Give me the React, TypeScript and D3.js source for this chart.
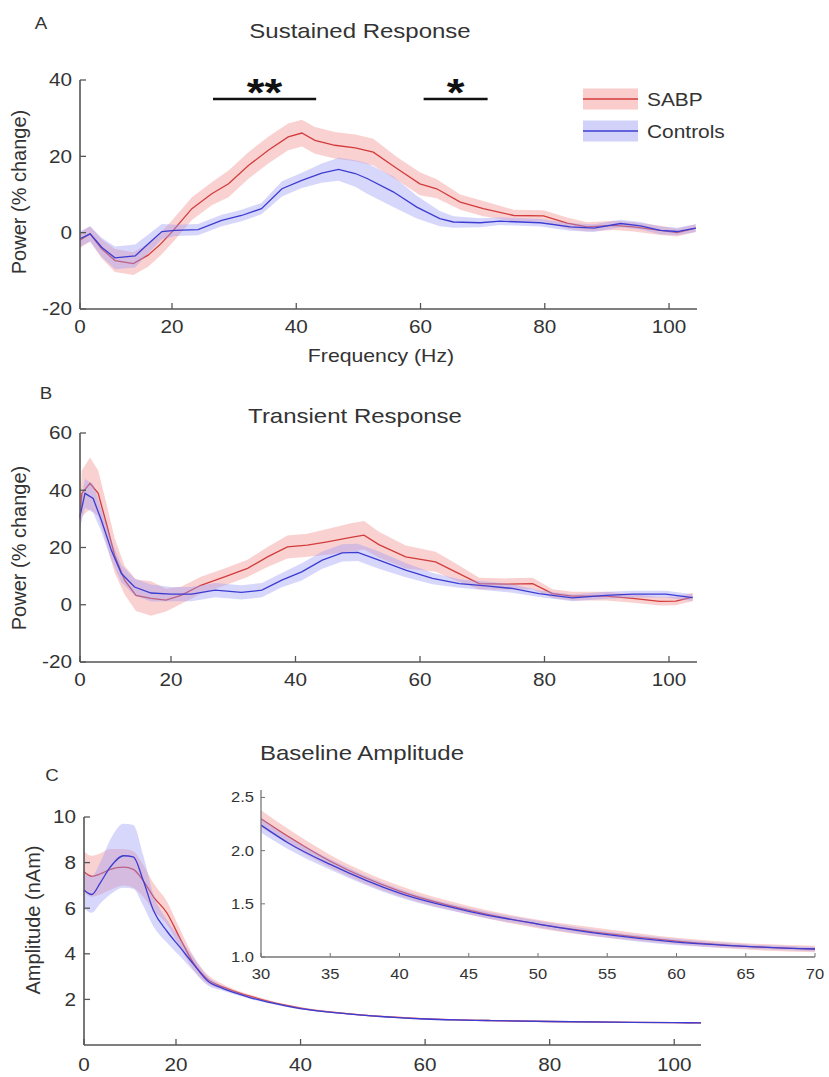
import React from "react";
import * as d3 from "d3";

// ---------- data ----------
const xTicksMain = [0, 20, 40, 60, 80, 100];
const yTicksA = [-20, 0, 20, 40];
const yTicksB = [-20, 0, 20, 40, 60];
const yTicksC = [2, 4, 6, 8, 10];
const xTicksInset = [30, 35, 40, 45, 50, 55, 60, 65, 70];
const yTicksInset = [1.0, 1.5, 2.0, 2.5];
const legendLabels = ["SABP", "Controls"];

// Panel A – Sustained response
const freqA_sabp = [0, 2.2, 4.7, 7.6, 11.6, 14.8, 17.5, 20, 23.2, 26.4, 29.1, 32.3, 35.5, 38.7, 40.9, 43, 46.2, 49.5, 52.4, 56.2, 59.9, 62.6, 66.4, 70.1, 75, 79.8, 83.6, 86.8, 91.1, 94.3, 98.6, 101.3, 104.3];
const powA_sabp = [-2, -0.3, -4.2, -7.3, -8.1, -5.9, -3, 0.2, 6.3, 10.2, 12.8, 17.6, 21.6, 25.1, 26.1, 24.2, 22.9, 22.2, 21.1, 16.8, 12.8, 11.5, 8.0, 6.3, 4.5, 4.4, 2.5, 1.5, 1.9, 1.5, 0.6, 0, 1.2];
const semA_sabp = [2, 2, 2.5, 3, 3, 3, 3, 3, 3, 3, 3.5, 3.5, 3.5, 3.5, 3.5, 3.5, 3.5, 3.5, 3.5, 3, 3, 2.5, 2, 2, 1.5, 1.5, 1.5, 1.2, 1.2, 1.2, 1.2, 1, 1];
const freqA_ctrl = [0, 2.2, 4.7, 7.6, 12, 14.5, 17.8, 20.5, 24.2, 28, 31.2, 34.4, 37.7, 40.9, 44.1, 46.8, 49.5, 51.4, 55.6, 59.4, 63.1, 65.3, 69.6, 72.8, 79.3, 84.1, 87.9, 92.2, 95.4, 98.6, 101.3, 104.3];
const powA_ctrl = [-1.6, -0.3, -3.8, -6.6, -6.1, -3.3, 0.3, 0.6, 0.8, 3.2, 4.5, 6.3, 11.5, 13.7, 15.6, 16.6, 15.5, 14.2, 10.7, 6.7, 3.7, 2.8, 2.6, 3.0, 2.6, 1.5, 1.2, 2.4, 1.8, 0.6, 0.3, 1.2];
const semA_ctrl = [2, 2, 2.5, 3, 3, 2.5, 2, 1.5, 1.5, 1.5, 1.5, 1.5, 2, 2, 2.5, 3, 3.5, 4, 4, 3, 2, 1.5, 1.2, 1, 1, 1, 1, 1, 1, 1, 1, 1];
const sigRanges = [[26.6, 43.2], [60.5, 70.8]];
const sigLabels = ["**", "*"];

// Panel B – Transient response
const freqB_sabp = [0, 0.4, 2.2, 4, 5.8, 7.6, 9.8, 12.3, 15.6, 18.9, 21.6, 24.8, 28.6, 32.3, 35.5, 38.7, 41.9, 45.1, 48.9, 51, 53.4, 57.7, 62.5, 65.7, 69.5, 73.8, 78.1, 81.3, 84.5, 89.9, 94.2, 98.5, 101.1, 103.8];
const powB_sabp = [30, 38.9, 42.4, 38.9, 28.4, 17.3, 8.6, 3.3, 2.2, 1.6, 3.3, 6.8, 9.7, 12.7, 16.7, 20.2, 20.8, 22, 23.5, 24.3, 21, 16.7, 15, 11.5, 7.4, 7.2, 7.4, 3.9, 3.0, 3.0, 2.2, 1.2, 1.3, 2.7];
const semB_sabp = [5, 8, 9, 8, 7, 6, 5, 5.5, 6, 4, 3, 3, 3, 3, 3.5, 4, 4, 4.5, 5, 5, 4.5, 4, 3.5, 3, 2, 2, 2, 1.5, 1.5, 1.5, 1.5, 1.5, 1.5, 1.5];
const freqB_ctrl = [0, 1.1, 2.9, 4.7, 6.9, 9.1, 12, 15.6, 20, 23.3, 27.1, 31.3, 34.6, 37.8, 41, 44.3, 47.5, 50, 53.4, 57.7, 62, 66.3, 70.6, 74.8, 79.1, 84.5, 89.9, 94.2, 99.5, 103.8];
const powB_ctrl = [31, 38.9, 37.1, 29.5, 19, 10.9, 6.2, 4.1, 3.7, 3.7, 5.1, 4.3, 5.1, 8.6, 11.5, 15.6, 18.1, 18.3, 15.6, 12.1, 9.2, 7.4, 6.6, 5.7, 3.9, 2.4, 3.3, 3.7, 3.7, 2.5];
const semB_ctrl = [4, 5, 5, 4, 3.5, 3, 3, 3, 2.5, 2.5, 2.5, 2.5, 2.5, 2.5, 3, 3, 3, 3, 3, 2.5, 2, 1.5, 1.5, 1.5, 1.2, 1.2, 1.2, 1.2, 1.2, 1.2];

// Panel C – Baseline amplitude
const freqC = [0, 1.7, 3.5, 5.7, 8.6, 10.7, 12.9, 15.1, 18, 20.6, 22.8, 25, 27.5, 30, 32, 35, 40, 45, 50, 55, 60, 65, 70, 80, 90, 100, 104.3];
const ampC_sabp = [7.6, 7.4, 7.5, 7.7, 7.8, 7.7, 7.2, 6.5, 5.8, 4.7, 3.6, 2.9, 2.55, 2.3, 2.13, 1.9, 1.62, 1.44, 1.31, 1.22, 1.15, 1.1, 1.075, 1.03, 1.0, 0.98, 0.97];
const semC_sabp = [0.9, 0.9, 0.9, 0.9, 0.8, 0.8, 0.7, 0.6, 0.5, 0.4, 0.3, 0.2, 0.12, 0.08, 0.07, 0.06, 0.05, 0.04, 0.04, 0.04, 0.03, 0.03, 0.03, 0.02, 0.02, 0.02, 0.02];
const ampC_ctrl = [6.8, 6.6, 7.1, 7.8, 8.3, 8.25, 7.2, 5.9, 5.0, 4.3, 3.55, 2.83, 2.48, 2.24, 2.07, 1.87, 1.6, 1.43, 1.31, 1.21, 1.14, 1.1, 1.075, 1.03, 1.0, 0.98, 0.97];
const semC_ctrl = [0.8, 0.8, 0.9, 1.2, 1.4, 1.4, 1.1, 0.7, 0.5, 0.4, 0.3, 0.2, 0.1, 0.07, 0.06, 0.05, 0.04, 0.03, 0.03, 0.03, 0.03, 0.02, 0.02, 0.02, 0.02, 0.02, 0.02];

// ---------- styling ----------
const FONT = "'Liberation Sans', Arial, sans-serif";
const RED = "#d23c3c";
const BLUE = "#3c3cd2";
const RED_BAND = "#f59a9a";
const BLUE_BAND = "#9a9af5";
const AXIS = "#555";
const TXT = "#333";

type Pt = { f: number; v: number; s: number };
const zip = (f: number[], v: number[], s: number[]): Pt[] => f.map((ff, i) => ({ f: ff, v: v[i], s: s[i] }));

function T({ x, y, s = 18, sx = 1.15, anchor = "middle", rot = 0, w = "normal", fill = TXT, children }: any) {
  return (
    <text
      transform={`translate(${x},${y}) rotate(${rot}) scale(${sx},1)`}
      fontSize={s}
      textAnchor={anchor}
      fontWeight={w}
      fill={fill}
      fontFamily={FONT}
    >
      {children}
    </text>
  );
}

function Series({ data, x, y, color, band, curve, bandOpacity = 0.45 }: any) {
  const area = d3
    .area<Pt>()
    .x((d) => x(d.f))
    .y0((d) => y(d.v - d.s))
    .y1((d) => y(d.v + d.s))
    .curve(curve);
  const line = d3
    .line<Pt>()
    .x((d) => x(d.f))
    .y((d) => y(d.v))
    .curve(curve);
  return (
    <g>
      <path d={area(data) || ""} fill={band} opacity={bandOpacity} stroke="none" />
      <path d={line(data) || ""} fill="none" stroke={color} strokeWidth={1.3} />
    </g>
  );
}

function Axes({ x, y, xTicks, yTicks, xLabels = true, tickFmt = (v: number) => String(v), xFmt = (v: number) => String(v), stroke = AXIS, fs = 18, sx = 1.15, xLabelDy = 24, yLabelDx = 8, tl = 6, sw = 1.6 }: any) {
  const [x0, x1] = [x.range()[0], x.range()[x.range().length - 1]];
  const [y0, y1] = y.range();
  return (
    <g>
      <line x1={x0} x2={x1} y1={y0} y2={y0} stroke={stroke} strokeWidth={sw} />
      <line x1={x0} x2={x0} y1={y0} y2={y1} stroke={stroke} strokeWidth={sw} />
      {xTicks.map((t: number) => (
        <g key={"x" + t}>
          <line x1={x(t)} x2={x(t)} y1={y0} y2={y0 - tl} stroke={stroke} strokeWidth={sw * 0.8} />
          {xLabels && (
            <T x={x(t)} y={y0 + xLabelDy} s={fs} sx={sx}>
              {xFmt(t)}
            </T>
          )}
        </g>
      ))}
      {yTicks.map((t: number) => (
        <g key={"y" + t}>
          <line x1={x0} x2={x0 + tl} y1={y(t)} y2={y(t)} stroke={stroke} strokeWidth={sw * 0.8} />
          <T x={x0 - yLabelDx} y={y(t) + fs * 0.36} s={fs} sx={sx} anchor="end">
            {tickFmt(t)}
          </T>
        </g>
      ))}
    </g>
  );
}

export default function App() {
  // scales
  const xA = d3.scaleLinear().domain([0, 20, 104.5]).range([80, 172, 697]);
  const yA = d3.scaleLinear().domain([-20, 40]).range([309, 80]);
  const xB = d3.scaleLinear().domain([0, 20, 104.5]).range([80, 171, 697]);
  const yB = d3.scaleLinear().domain([-20, 60]).range([662, 433]);
  const xC = d3.scaleLinear().domain([0, 20, 104.3]).range([84, 176, 701]);
  const yC = d3.scaleLinear().domain([0, 10]).range([1045, 817]);
  const xI = d3.scaleLinear().domain([30, 70]).range([261, 815]);
  const yI = d3.scaleLinear().domain([1.0, 2.57]).range([957, 790]);

  const aS = zip(freqA_sabp, powA_sabp, semA_sabp);
  const aC = zip(freqA_ctrl, powA_ctrl, semA_ctrl);
  const bS = zip(freqB_sabp, powB_sabp, semB_sabp);
  const bC = zip(freqB_ctrl, powB_ctrl, semB_ctrl);
  const cS = zip(freqC, ampC_sabp, semC_sabp);
  const cC = zip(freqC, ampC_ctrl, semC_ctrl);
  const iS = cS.filter((d) => d.f >= 30 && d.f <= 70);
  const iC = cC.filter((d) => d.f >= 30 && d.f <= 70);

  const lin = d3.curveLinear;
  const smooth = d3.curveMonotoneX;

  return (
    <svg width={829} height={1077} style={{ position: "absolute", left: 0, top: 0, background: "#fff" }}>
      <rect width={829} height={1077} fill="#fff" />

      {/* ---------- Panel A ---------- */}
      <T x={41} y={29} s={17} sx={1.1}>A</T>
      <T x={360} y={38} s={20} sx={1.2}>Sustained Response</T>
      <Series data={aS} x={xA} y={yA} color={RED} band={RED_BAND} curve={lin} />
      <Series data={aC} x={xA} y={yA} color={BLUE} band={BLUE_BAND} curve={lin} bandOpacity={0.4} />
      <Axes x={xA} y={yA} xTicks={xTicksMain} yTicks={yTicksA} />
      <T x={26} y={192} s={20} sx={1} rot={-90}>Power (% change)</T>
      <T x={381} y={362} s={18} sx={1.18}>Frequency (Hz)</T>
      {sigRanges.map((r, i) => (
        <g key={"sig" + i}>
          <line x1={xA(r[0])} x2={xA(r[1])} y1={99} y2={99} stroke="#111" strokeWidth={2.5} />
          <T x={(xA(r[0]) + xA(r[1])) / 2} y={106} s={38} sx={1.2} w="bold" fill="#111">
            {sigLabels[i]}
          </T>
        </g>
      ))}
      {/* legend */}
      {legendLabels.map((lab, i) => {
        const yc = 99 + i * 32;
        return (
          <g key={lab}>
            <rect x={583} y={yc - 10.5} width={55} height={21} fill={i === 0 ? RED_BAND : BLUE_BAND} opacity={i === 0 ? 0.5 : 0.45} />
            <line x1={583} x2={638} y1={yc} y2={yc} stroke={i === 0 ? RED : BLUE} strokeWidth={1.3} />
            <T x={647} y={yc + 7} s={19} sx={1.1} anchor="start">{lab}</T>
          </g>
        );
      })}

      {/* ---------- Panel B ---------- */}
      <T x={46} y={399} s={17} sx={1.1}>B</T>
      <T x={355} y={423} s={20} sx={1.2}>Transient Response</T>
      <Series data={bS} x={xB} y={yB} color={RED} band={RED_BAND} curve={lin} />
      <Series data={bC} x={xB} y={yB} color={BLUE} band={BLUE_BAND} curve={lin} bandOpacity={0.4} />
      <Axes x={xB} y={yB} xTicks={xTicksMain} yTicks={yTicksB} />
      <T x={26} y={548} s={20} sx={1} rot={-90}>Power (% change)</T>

      {/* ---------- Panel C ---------- */}
      <T x={52} y={781} s={17} sx={1.1}>C</T>
      <T x={362} y={760} s={20} sx={1.2}>Baseline Amplitude</T>
      <Series data={cS} x={xC} y={yC} color={RED} band={RED_BAND} curve={smooth} />
      <Series data={cC} x={xC} y={yC} color={BLUE} band={BLUE_BAND} curve={smooth} bandOpacity={0.4} />
      <Axes x={xC} y={yC} xTicks={xTicksMain} yTicks={yTicksC} xLabelDy={26} />
      <T x={40} y={920} s={20} sx={1} rot={-90}>Amplitude (nAm)</T>

      {/* inset */}
      <Series data={iS} x={xI} y={yI} color={RED} band={RED_BAND} curve={smooth} />
      <Series data={iC} x={xI} y={yI} color={BLUE} band={BLUE_BAND} curve={smooth} bandOpacity={0.4} />
      <Axes
        x={xI}
        y={yI}
        xTicks={xTicksInset}
        yTicks={yTicksInset}
        tickFmt={(v: number) => v.toFixed(1)}
        stroke="#777"
        fs={14}
        sx={1.18}
        xLabelDy={22}
        yLabelDx={7}
        tl={4}
        sw={1.3}
      />
    </svg>
  );
}
